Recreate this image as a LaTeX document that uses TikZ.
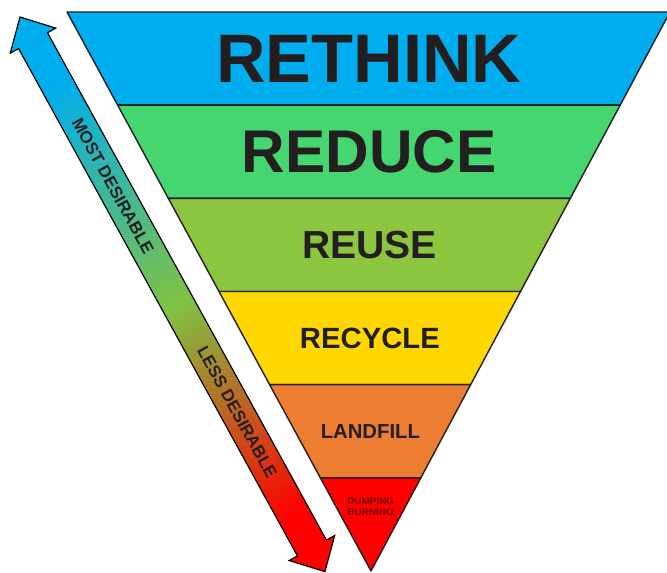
\documentclass[tikz,border=0pt]{standalone}
\usepackage{fontspec}
\setmainfont{Liberation Sans}
\usetikzlibrary{calc}
\definecolor{RethinkBlue}{RGB}{0,174,239}
\definecolor{ReduceGreen}{RGB}{70,214,112}
\definecolor{ReuseLime}{RGB}{140,198,63}
\definecolor{RecycleYellow}{RGB}{255,215,0}
\definecolor{LandfillOrange}{RGB}{237,125,49}
\definecolor{DumpRed}{RGB}{255,0,0}
\definecolor{InkGrey}{RGB}{35,31,32}
\definecolor{DumpInk}{RGB}{120,8,8}
\definecolor{ArrowGreen}{RGB}{128,194,66}
\pgfdeclarehorizontalshading{desire}{100bp}{color(0bp)=(RethinkBlue);
	color(31bp)=(RethinkBlue); color(51bp)=(ArrowGreen);
	color(70bp)=(DumpRed); color(100bp)=(DumpRed)}

\begin{document}
\begin{tikzpicture}[x=0.03cm, y=0.03cm,
	band/.style={draw=InkGrey, line width=1.2pt, line join=round},
	lvl/.style={text=InkGrey, inner sep=0pt, anchor=center},
	tag/.style={text=InkGrey, inner sep=0pt,
		font=\fontsize{14.5}{15}\selectfont\bfseries}]

	\useasboundingbox (0,0) rectangle (667,573);
	\coordinate (tl) at (67,561);
	\coordinate (tr) at (670,561);
	\coordinate (ap) at (371,2);
	\coordinate (up) at (20,556);
	\coordinate (down) at (325,1);

	% the six levels of the funnel
	\foreach \col [count=\k from 0] in {RethinkBlue, ReduceGreen, ReuseLime,
		RecycleYellow, LandfillOrange, DumpRed}{
		\pgfmathsetmacro\fa{\k/6}
		\pgfmathsetmacro\fb{(\k+1)/6}
		\filldraw[band, fill=\col] ($(tl)!\fa!(ap)$) -- ($(tr)!\fa!(ap)$)
			-- ($(tr)!\fb!(ap)$) -- ($(tl)!\fb!(ap)$) -- cycle;
	}
	\foreach \f/\sz/\txt [count=\i] in {0.0833/58.6/RETHINK, 0.25/51.5/REDUCE,
		0.4167/33.4/REUSE, 0.5833/25/RECYCLE, 0.75/17.3/LANDFILL}{
		\node[lvl, font=\fontsize{\sz}{\sz}\selectfont\bfseries] (lvl\i)
			at ($ ($(tl)!\f!(ap)$)!0.5!($(tr)!\f!(ap)$) $) {\txt};
	}
	\node[lvl, text=DumpInk, align=center, font=\fontsize{8.5}{9.6}\selectfont\bfseries]
		(lvl6) at ($ ($(tl)!0.885!(ap)$)!0.5!($(tr)!0.885!(ap)$) $) {DUMPING\\BURNING};

	% desirability arrow along the left side
	\begin{scope}[transform canvas={shift={(up)}, rotate=-61.2}]
		\shadedraw[shading=desire, draw=black, line width=1pt]
			(0,0) -- (27,26) -- (27,16.5) -- (606,16.5) -- (606,26) -- (633,0)
			-- (606,-26) -- (606,-16.5) -- (27,-16.5) -- (27,-26) -- cycle;
		\node[tag] (most) at (193,0) {MOST DESIRABLE};
		\node[tag] (less) at (451,0) {LESS DESIRABLE};
	\end{scope}
\end{tikzpicture}
\end{document}
